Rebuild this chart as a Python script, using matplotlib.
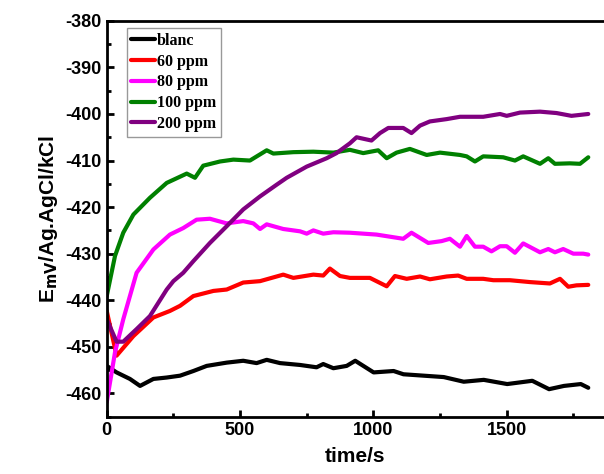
import matplotlib
matplotlib.use("Agg")
import matplotlib.pyplot as plt
from matplotlib.ticker import MultipleLocator

# values (time in s, potential in mV)
t_blanc = [0, 37, 87, 125, 175, 225, 275, 325, 375, 450, 512, 562, 600, 650, 725, 787, 812,
           850, 900, 932, 1001, 1076, 1113, 1264, 1339, 1414, 1502, 1596, 1659, 1715, 1778, 1806]
e_blanc = [-454.1, -455.5, -456.9, -458.4, -456.9, -456.6, -456.2, -455.2, -454.1, -453.4, -453.0,
           -453.5, -452.8, -453.5, -453.9, -454.4, -453.7, -454.6, -454.1, -453.0, -455.5, -455.2,
           -455.9, -456.5, -457.5, -457.1, -458.0, -457.3, -459.1, -458.4, -458.0, -458.8]

t_60 = [0, 37, 100, 175, 237, 275, 325, 400, 450, 512, 575, 662, 700, 775, 812, 837, 875, 912,
        987, 1050, 1081, 1125, 1175, 1212, 1275, 1318, 1350, 1412, 1450, 1512, 1587, 1662, 1700,
        1731, 1762, 1806]
e_60 = [-442.3, -451.9, -447.7, -443.7, -442.3, -441.2, -439.1, -438.0, -437.7, -436.2, -435.9,
        -434.5, -435.2, -434.5, -434.7, -433.2, -434.8, -435.2, -435.2, -437.0, -434.8, -435.4,
        -434.9, -435.5, -434.9, -434.7, -435.4, -435.4, -435.7, -435.7, -436.1, -436.4, -435.4,
        -437.1, -436.8, -436.7]

t_80 = [0, 31, 62, 112, 175, 237, 287, 337, 387, 450, 512, 550, 575, 600, 662, 725, 750, 775,
        812, 850, 912, 1012, 1112, 1143, 1206, 1256, 1287, 1325, 1350, 1381, 1412, 1443, 1475,
        1500, 1531, 1562, 1625, 1656, 1681, 1712, 1750, 1787, 1806]
e_80 = [-461.9, -451.2, -444.1, -434.1, -429.1, -425.9, -424.5, -422.7, -422.5, -423.5, -423.0,
        -423.5, -424.7, -423.7, -424.7, -425.2, -425.7, -425.0, -425.7, -425.4, -425.5, -425.9,
        -426.8, -425.5, -427.7, -427.3, -426.8, -428.5, -426.2, -428.5, -428.5, -429.5, -428.4,
        -428.4, -429.8, -427.8, -429.7, -429.0, -429.7, -429.0, -430.0, -430.0, -430.2]

t_100 = [0, 31, 62, 100, 162, 225, 300, 331, 362, 425, 475, 537, 600, 625, 700, 775, 850, 912,
         962, 1018, 1050, 1087, 1137, 1200, 1250, 1325, 1350, 1381, 1412, 1487, 1531, 1562, 1625,
         1656, 1681, 1737, 1775, 1806]
e_100 = [-439.1, -430.5, -425.5, -421.6, -418.0, -414.8, -412.8, -413.7, -411.1, -410.2, -409.8,
         -410.0, -407.8, -408.5, -408.2, -408.1, -408.3, -407.7, -408.4, -407.8, -409.5, -408.3,
         -407.5, -408.8, -408.3, -408.8, -409.1, -410.2, -409.1, -409.3, -410.0, -409.1, -410.7,
         -409.5, -410.7, -410.6, -410.7, -409.3]

t_200 = [0, 37, 62, 112, 162, 225, 250, 287, 325, 387, 450, 512, 575, 637, 675, 750, 825, 862,
         912, 937, 993, 1025, 1056, 1112, 1143, 1175, 1212, 1275, 1325, 1412, 1475, 1500, 1550,
         1625, 1687, 1743, 1806]
e_200 = [-444.1, -448.9, -448.9, -446.2, -443.4, -437.7, -435.9, -434.1, -431.6, -427.7, -424.1,
         -420.5, -417.7, -415.2, -413.7, -411.3, -409.5, -408.4, -406.3, -405.0, -405.7, -404.1,
         -403.0, -403.0, -404.1, -402.5, -401.6, -401.1, -400.6, -400.6, -400.0, -400.4, -399.7,
         -399.5, -399.8, -400.4, -400.0]

series = [
    (t_blanc, e_blanc, "blanc", "black"),
    (t_60, e_60, "60 ppm", "red"),
    (t_80, e_80, "80 ppm", "magenta"),
    (t_100, e_100, "100 ppm", "green"),
    (t_200, e_200, "200 ppm", "purple"),
]

plt.rcParams['font.family'] = ['Liberation Sans', 'DejaVu Sans']
plt.rcParams['axes.unicode_minus'] = False

fig = plt.figure(figsize=(6.04, 4.74), dpi=100)
ax = fig.add_axes([0.1767, 0.121, 0.8233, 0.835])

for t, e, lab, col in series:
    ax.plot(t, e, color=col, linewidth=3, label=lab, solid_capstyle='round')

ax.set_xlim(0, 1865)
ax.set_ylim(-465, -380)
ax.xaxis.set_major_locator(MultipleLocator(500))
ax.xaxis.set_minor_locator(MultipleLocator(250))
ax.yaxis.set_major_locator(MultipleLocator(10))
ax.yaxis.set_minor_locator(MultipleLocator(5))

for s in ['left', 'bottom', 'top']:
    ax.spines[s].set_linewidth(2)
ax.spines['right'].set_visible(False)

ax.tick_params(which='both', direction='in', width=2, labelsize=13)
ax.tick_params(which='major', length=5)
ax.tick_params(which='minor', length=3)
for lbl in ax.get_xticklabels() + ax.get_yticklabels():
    lbl.set_fontweight('bold')

ax.set_xlabel("time/s", fontsize=15, fontweight='bold', labelpad=6)
ax.set_ylabel(r"E$_{\mathbf{mV}}$/Ag.AgCl/kCl", fontsize=15, fontweight='bold', labelpad=4)

leg = ax.legend(loc='upper left', bbox_to_anchor=(0.04, 0.982), frameon=True, fancybox=False,
                edgecolor='#999999', framealpha=1, handlelength=1.5, handletextpad=0.1,
                labelspacing=0.3, borderpad=0.3, borderaxespad=0,
                prop={'family': 'Liberation Serif', 'weight': 'bold', 'size': 11.5})
leg.get_frame().set_linewidth(1)

fig.savefig("out.png", dpi=100)
